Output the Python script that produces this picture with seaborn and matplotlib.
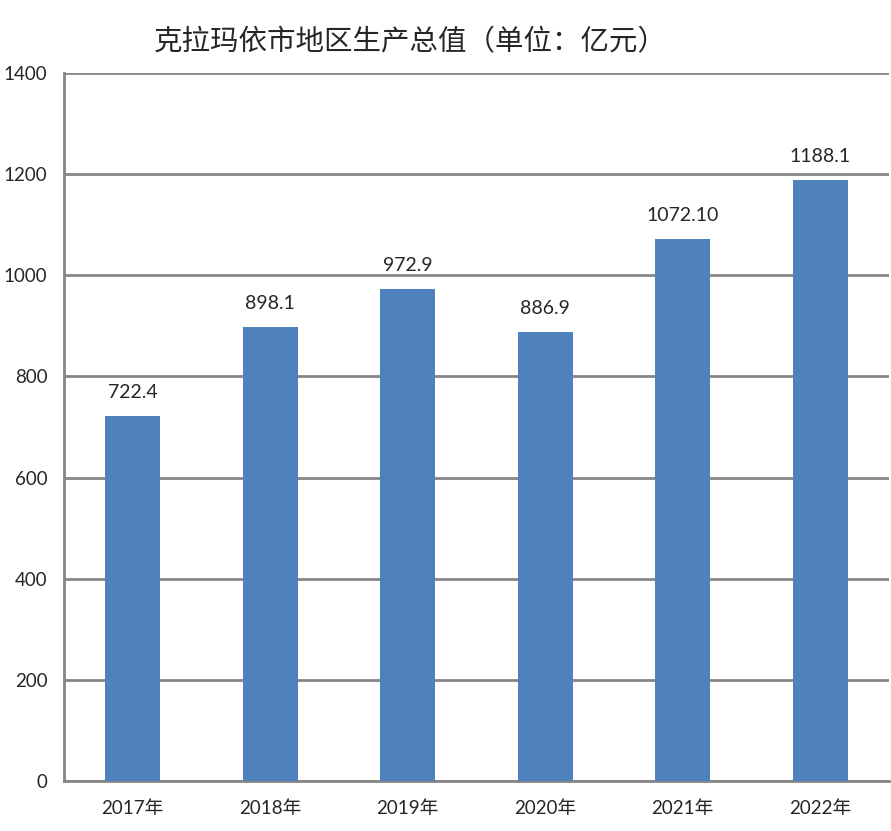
import pandas as pd
import matplotlib.pyplot as plt
import seaborn as sns

# Chart data
years = ['2017年', '2018年', '2019年', '2020年', '2021年', '2022年']
gdp = [722.4, 898.1, 972.9, 886.9, 1072.1, 1188.1]
value_labels = ['722.4', '898.1', '972.9', '886.9', '1072.10', '1188.1']
y_ticks = [0, 200, 400, 600, 800, 1000, 1200, 1400]

df = pd.DataFrame({'year': years, 'gdp': gdp})

sns.set_style('white')
plt.rcParams['font.family'] = ['Lato', 'Noto Sans CJK SC', 'DejaVu Sans']

fig = plt.figure(figsize=(8.91, 8.31), dpi=100)
ax = fig.add_axes([64 / 891, 50 / 831, 825 / 891, 708 / 831])

grid_col = '#868686'
sns.barplot(x='year', y='gdp', data=df, color='#4F81BD', width=0.4,
            saturation=1, linewidth=0, edgecolor='none', ax=ax, zorder=3)

ax.set_ylim(0, 1400)
ax.set_xlim(-0.5, len(years) - 0.5)
ax.set_yticks(y_ticks)
ax.set_yticklabels([str(t) for t in y_ticks], fontsize=13.5)
ax.yaxis.grid(True, color=grid_col, linewidth=2, zorder=0)
ax.set_axisbelow(True)

# x ticks between categories, labels centred
ax.set_xticks([i - 0.5 for i in range(len(years) + 1)], minor=False)
ax.set_xticklabels([''] * (len(years) + 1))
ax.set_xticks(range(len(years)), minor=True)
ax.set_xticklabels(years, minor=True, fontsize=13.5)
ax.tick_params(axis='x', which='major', length=8, width=2, color=grid_col, direction='out')
ax.tick_params(axis='x', which='minor', length=0, pad=14)
ax.tick_params(axis='y', length=7, width=2, color=grid_col, direction='out', pad=5)

for side in ['top', 'right']:
    ax.spines[side].set_visible(False)
for side in ['left', 'bottom']:
    ax.spines[side].set_color(grid_col)
    ax.spines[side].set_linewidth(2)

ax.set_xlabel('')
ax.set_ylabel('')

# value labels above bars
for i, (v, lab) in enumerate(zip(gdp, value_labels)):
    ax.annotate(lab, (i, v), xytext=(0, 17), textcoords='offset points',
                ha='center', va='center', fontsize=14)

fig.text(410 / 891, 1 - 42 / 831, '克拉玛依市地区生产总值（单位：亿元）',
         ha='center', va='center', fontsize=20.5,
         family=['Noto Sans CJK SC', 'DejaVu Sans'])

fig.savefig('out.png', dpi=100)
